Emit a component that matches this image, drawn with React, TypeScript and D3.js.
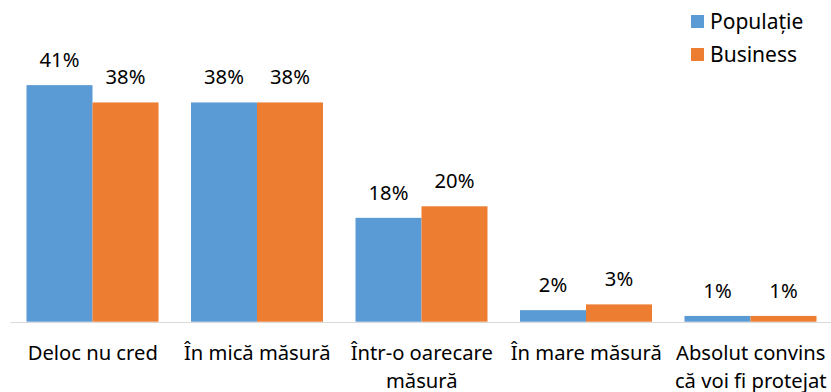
import React from "react";
import * as d3 from "d3";

const categories: string[][] = [
  ["Deloc nu cred"],
  ["În mică măsură"],
  ["Într-o oarecare", "măsură"],
  ["În mare măsură"],
  ["Absolut convins", "că voi fi protejat"],
];
const seriesNames = ["Populație", "Business"];
const populatie = [41, 38, 18, 2, 1];
const business = [38, 38, 20, 3, 1];
const colors = ["#5B9BD5", "#ED7D31"];

const W = 831;
const H = 392;
const FONT = "'Noto Sans', 'Open Sans', sans-serif";
const FS = 20.2;

export default function App() {
  const keys = categories.map((c) => c.join(" "));
  const x = d3.scaleBand<string>().domain(keys).range([10.5, 833]).padding(0);
  const inner = d3
    .scaleBand<string>()
    .domain(seriesNames)
    .range([16, x.bandwidth() - 16.5])
    .padding(0);
  const y = d3.scaleLinear().domain([0, 45]).range([321.7, 321.7 - 45 * 5.77]);
  const data = [populatie, business];

  return (
    <svg
      width={W}
      height={H}
      style={{ position: "absolute", left: 0, top: 0, background: "#fff" }}
      fontFamily={FONT}
    >
      <rect x={0} y={0} width={W} height={H} fill="#fff" />
      {data.map((vals, si) =>
        vals.map((v, i) => {
          const bx = (x(keys[i]) as number) + (inner(seriesNames[si]) as number);
          const bw = inner.bandwidth();
          return (
            <g key={`${si}-${i}`}>
              <rect x={bx} y={y(v)} width={bw} height={y(0) - y(v)} fill={colors[si]} />
              <text
                x={bx + bw / 2}
                y={y(v) - 18}
                textAnchor="middle"
                fontSize={FS}
                fill="#000"
              >
                {`${v}%`}
              </text>
            </g>
          );
        })
      )}
      <line x1={10.5} x2={831} y1={322.5} y2={322.5} stroke="#D9D9D9" strokeWidth={1} />
      {categories.map((lines, i) =>
        lines.map((l, j) => (
          <text
            key={`${i}-${j}`}
            x={(x(keys[i]) as number) + x.bandwidth() / 2}
            y={360 + j * 27.5}
            textAnchor="middle"
            fontSize={FS}
            fill="#000"
          >
            {l}
          </text>
        ))
      )}
      {seriesNames.map((n, si) => (
        <g key={n} transform={`translate(691, ${15 + si * 33})`}>
          <rect x={0} y={0} width={13} height={13} fill={colors[si]} />
          <text x={19} y={14} fontSize={FS + 0.8} fill="#000">
            {n}
          </text>
        </g>
      ))}
    </svg>
  );
}
